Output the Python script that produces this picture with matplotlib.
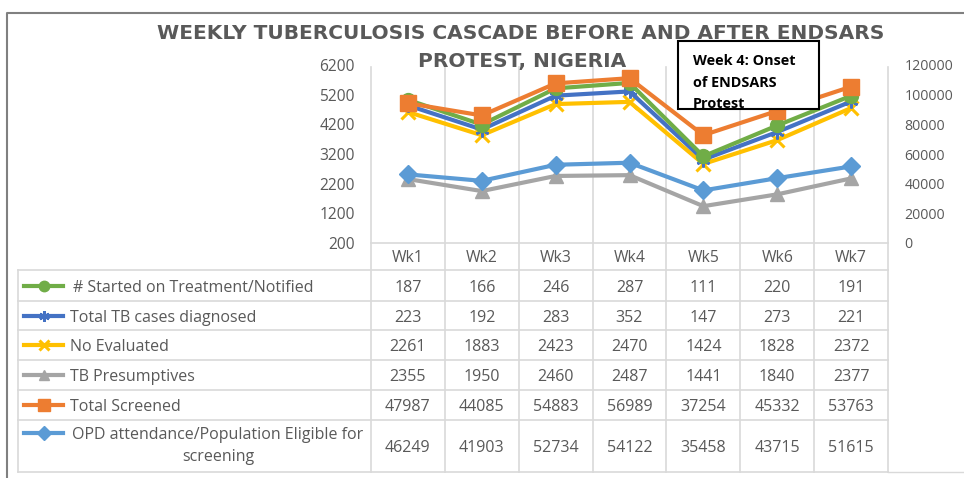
import matplotlib
matplotlib.use('Agg')
import matplotlib.pyplot as plt
import numpy as np
from matplotlib.transforms import blended_transform_factory
from matplotlib.lines import Line2D
from matplotlib.patches import Rectangle

# ---------------- data ----------------
weeks = ['Wk1', 'Wk2', 'Wk3', 'Wk4', 'Wk5', 'Wk6', 'Wk7']
started = [187, 166, 246, 287, 111, 220, 191]
diagnosed = [223, 192, 283, 352, 147, 273, 221]
evaluated = [2261, 1883, 2423, 2470, 1424, 1828, 2372]
presumptives = [2355, 1950, 2460, 2487, 1441, 1840, 2377]
screened = [47987, 44085, 54883, 56989, 37254, 45332, 53763]
opd = [46249, 41903, 52734, 54122, 35458, 43715, 51615]

series_labels = ['# Started on Treatment/Notified', 'Total TB cases diagnosed',
                 'No Evaluated', 'TB Presumptives', 'Total Screened',
                 'OPD attendance/Population Eligible for\nscreening']
left_ticks = [200, 1200, 2200, 3200, 4200, 5200, 6200]
right_ticks = [0, 20000, 40000, 60000, 80000, 100000, 120000]
title_line1 = 'WEEKLY TUBERCULOSIS CASCADE BEFORE AND AFTER ENDSARS'
title_line2 = 'PROTEST, NIGERIA'
note_text = 'Week 4: Onset\nof ENDSARS\nProtest'

# ---------------- styles ----------------
C_GREEN, C_BLUE, C_YELLOW = '#70AD47', '#4472C4', '#FFC000'
C_GRAY, C_ORANGE, C_LBLUE = '#A5A5A5', '#ED7D31', '#5B9BD5'
TXT = '#595959'
GRID = '#D9D9D9'
FONT = 'Open Sans'

W, H = 964, 478
fig = plt.figure(figsize=(W / 100, H / 100), dpi=100)


def fx(px):
    return px / W


def fy(py):
    return 1 - py / H


ax = fig.add_axes([fx(371), fy(243), (888 - 371) / W, (243 - 65) / H])
ax2 = ax.twinx()
for a in (ax, ax2):
    a.patch.set_visible(False)
    for s in a.spines.values():
        s.set_visible(False)
ax.spines['bottom'].set_visible(True)
ax.spines['bottom'].set_color(GRID)
ax.spines['bottom'].set_linewidth(1.2)

x = np.arange(len(weeks))
ax.set_xlim(-0.5, len(weeks) - 0.5)
ax.set_ylim(left_ticks[0], left_ticks[-1])
ax2.set_ylim(right_ticks[0], right_ticks[-1])
ax.set_xticks([])
ax.set_yticks(left_ticks)
ax2.set_yticks(right_ticks)
ax.tick_params(axis='y', length=0, pad=11.5, labelsize=11.2, labelcolor=TXT)
ax2.tick_params(axis='y', length=0, pad=12, labelsize=10.2, labelcolor=TXT)
for lab in ax.get_yticklabels() + ax2.get_yticklabels():
    lab.set_fontfamily(FONT)

# stacked lines (primary)
prim = np.cumsum(np.array([presumptives, evaluated, diagnosed, started]), axis=0)
LW = 3.0
styles = {
    'gray': dict(color=C_GRAY, marker='^', ms=10),
    'yellow': dict(color=C_YELLOW, marker='x', ms=10, mew=2.2),
    'blue': dict(color=C_BLUE, marker=(6, 2, 0), ms=10, mew=1.8),
    'green': dict(color=C_GREEN, marker='o', ms=10),
    'orange': dict(color=C_ORANGE, marker='s', ms=11),
    'lblue': dict(color=C_LBLUE, marker='D', ms=9),
}
for vals, key in zip(prim, ['gray', 'yellow', 'blue', 'green']):
    ax.plot(x, vals, lw=LW, **styles[key])
sec = np.cumsum(np.array([opd, screened]), axis=0)
for vals, key in zip(sec, ['lblue', 'orange']):
    ax2.plot(x, vals, lw=LW, **styles[key])

# ---------------- table / grid ----------------
bt = blended_transform_factory(ax.transData, fig.transFigure)
for b in np.arange(-0.5, len(weeks), 1.0):
    fig.add_artist(Line2D([b, b], [fy(67), fy(472)], transform=bt,
                          color=GRID, lw=1.2, zorder=-1))
for yy in [270, 301, 330, 360, 390, 420, 472]:
    fig.add_artist(Line2D([fx(18), fx(888)], [fy(yy), fy(yy)],
                          transform=fig.transFigure, color=GRID, lw=1.2, zorder=-1))
fig.add_artist(Line2D([fx(18), fx(18)], [fy(270), fy(472)],
                      transform=fig.transFigure, color=GRID, lw=1.2, zorder=-1))
fig.add_artist(Line2D([fx(888), fx(964)], [fy(472), fy(472)],
                      transform=fig.transFigure, color=GRID, lw=1.0, zorder=-1))

for i, wk in enumerate(weeks):
    fig.text(i, fy(262.5), wk, transform=bt, ha='center', va='baseline',
             fontsize=11.3, color=TXT, family=FONT)

rows = [started, diagnosed, evaluated, presumptives, screened, opd]
row_keys = ['green', 'blue', 'yellow', 'gray', 'orange', 'lblue']
row_centers = [285.5, 315.5, 345, 375, 405, 446]
for r, (vals, key, yc, lab) in enumerate(zip(rows, row_keys, row_centers, series_labels)):
    for i, v in enumerate(vals):
        fig.text(i, fy(yc + 6), str(v), transform=bt, ha='center', va='baseline',
                 fontsize=11.5, color=TXT, family=FONT)
    st = styles[key]
    ly = yc if r < 5 else 433
    ms = st.get('ms', 10) * 0.75
    fig.add_artist(Line2D([fx(24), fx(43.5), fx(63)], [fy(ly)] * 3,
                          transform=fig.transFigure, color=st['color'], lw=LW,
                          marker=st['marker'], ms=ms, mew=st.get('mew', 1.0),
                          markevery=[1]))
    if r < 5:
        fig.text(fx(73 if r == 0 else 70), fy(yc + 6), lab, ha='left', va='baseline',
                 fontsize=11.5, color=TXT, family=FONT)
    else:
        fig.text(fx(218), fy(yc), lab, ha='center', va='center',
                 multialignment='center', linespacing=1.5,
                 fontsize=11.5, color=TXT, family=FONT)

# ---------------- title, note, frame ----------------
fig.text(fx(521), fy(39), title_line1, ha='center', va='baseline',
         fontsize=14.5, fontweight='bold', color=TXT, family='DejaVu Sans', zorder=7)
fig.text(fx(522), fy(67), title_line2, ha='center', va='baseline',
         fontsize=14.5, fontweight='bold', color=TXT, family='DejaVu Sans', zorder=7)

fig.add_artist(Rectangle((fx(678), fy(109)), (819 - 678) / W, (109 - 41) / H,
                         transform=fig.transFigure, facecolor='white',
                         edgecolor='black', lw=1.5, zorder=5))
fig.text(fx(693), fy(108), note_text, ha='left', va='baseline', linespacing=1.68,
         fontsize=10.4, fontweight='bold', color='black', family=FONT, zorder=6)

fig.add_artist(Line2D([fx(7), fx(7), fx(964)], [fy(478), fy(13), fy(13)],
                      transform=fig.transFigure, color='#808080', lw=1.5, zorder=8))

fig.savefig('out.png', dpi=100)
